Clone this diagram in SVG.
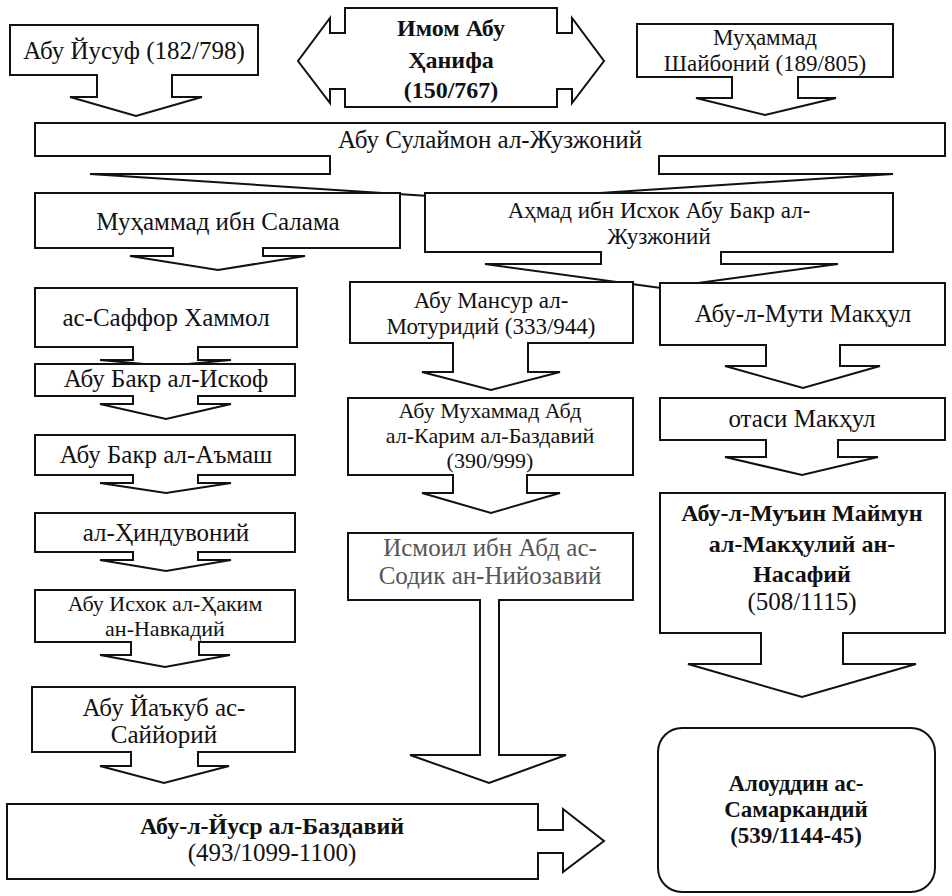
<svg xmlns="http://www.w3.org/2000/svg" width="952" height="896" viewBox="0 0 952 896">
<style>
.c{fill:#fff;stroke:#111;stroke-width:2;stroke-linejoin:miter;stroke-linecap:square}
.box{fill:#fff;stroke:#111;stroke-width:2;stroke-linecap:square}
.fl{fill:#fff;stroke:none}
text{font-family:"Liberation Serif","Times New Roman",serif;font-size:25px;text-anchor:middle;fill:#111}
.bd{font-weight:bold;font-size:24px}
.md{font-size:23px}
.sm{font-size:22px}
.gr{fill:#555}
</style>
<rect width="952" height="896" fill="#fff"/>
<g id="connectors">
<path class="c" d="M97,75 V97 H70 L136,116 L202,97 H172 V75"/>
<path class="c" d="M345,33 H330 V18 L298,61 L330,103 V89 H345"/>
<path class="c" d="M557,33 H572 V18 L604,61 L572,103 V89 H557"/>
<path class="c" d="M732,77 V98 H696 L765,115 L836,98 H798 V77"/>
<path class="c" d="M330,156 V174 H90 L491,200 L893,174 H659 V156"/>
<path class="c" d="M173,248 V256 H130 L218,270 L305,256 H263 V248"/>
<path class="c" d="M601,252 V264 H485 L661,288 L838,264 H721 V252"/>
<path class="c" d="M133,347 V360 H100 L166,366 L231,360 H198 V347"/>
<path class="c" d="M453,343 V372 H422 L491,390 L560,372 H528 V343"/>
<path class="c" d="M766,345 V366 H725 L803,388 L880,366 H840 V345"/>
<path class="c" d="M133,396 V404 H100 L166,419 L231,404 H198 V396"/>
<path class="c" d="M133,475 V483 H100 L166,493 L231,483 H198 V475"/>
<path class="c" d="M133,552 V560 H100 L166,571 L231,560 H198 V552"/>
<path class="c" d="M131,642 V655 H100 L165,667 L230,655 H199 V642"/>
<path class="c" d="M131,752 V766 H100 L164,783 L229,766 H198 V752"/>
<path class="c" d="M538,830 H563 V809 L604,841 L563,872 V853 H538"/>
<path class="c" d="M453,475 V493 H422 L491,513 L560,493 H527 V475"/>
<path class="c" d="M480,600 V755 H410 L489,783 L566,755 H499 V600"/>
<path class="c" d="M766,440 V457 H725 L802,475 L878,457 H838 V440"/>
<path class="c" d="M761,633 V664 H688 L802,697 L916,664 H843 V633"/>
</g>
<g id="n-yusuf">
<path class="box" d="M97,75 H10 V25 H258 V75 H172"/>
<text x="134" y="59">Абу Йусуф (182/798)</text>
</g>
<g id="n-imom">
<rect class="fl" x="345" y="8" width="212" height="99"/>
<path class="box" d="M345,33 V8 H557 V33 M557,89 V107 H345 V89" fill="none"/>
<text class="bd" x="451" y="36">Имом Абу</text>
<text class="bd" x="451" y="68">Ҳанифа</text>
<text class="bd" x="451" y="98">(150/767)</text>
</g>
<g id="n-shayboniy">
<path class="box" d="M732,77 H637 V24 H893 V77 H798"/>
<text class="md" x="765" y="45">Муҳаммад</text>
<text class="md" x="765" y="71">Шайбоний (189/805)</text>
</g>
<g id="n-sulaymon">
<path class="box" d="M330,156 H35 V123 H945 V156 H659"/>
<text x="490" y="148">Абу Сулаймон ал-Жузжоний</text>
</g>
<g id="n-salama">
<path class="box" d="M173,248 H35 V193 H400 V248 H263"/>
<text x="218" y="230">Муҳаммад ибн Салама</text>
</g>
<g id="n-ahmad">
<path class="box" d="M601,252 H425 V193 H893 V252 H721"/>
<text class="md" x="659" y="218">Аҳмад ибн Исхок Абу Бакр ал-</text>
<text class="md" x="659" y="244">Жузжоний</text>
</g>
<g id="n-saffor">
<path class="box" d="M133,347 H35 V288 H297 V347 H198"/>
<text x="166" y="326">ас-Саффор Хаммол</text>
</g>
<g id="n-mansur">
<path class="box" d="M453,343 H350 V282 H633 V343 H528"/>
<text class="md" x="491" y="308">Абу Мансур ал-</text>
<text class="md" x="491" y="334">Мотуридий (333/944)</text>
</g>
<g id="n-muti">
<path class="box" d="M766,345 H660 V283 H945 V345 H840"/>
<text x="803" y="322">Абу-л-Мути Макҳул</text>
</g>
<g id="n-iskof">
<path class="box" d="M133,396 H35 V364 H295 V396 H198"/>
<text x="166" y="387">Абу Бакр ал-Искоф</text>
</g>
<g id="n-amash">
<path class="box" d="M133,475 H35 V435 H295 V475 H198"/>
<text x="166" y="463">Абу Бакр ал-Аъмаш</text>
</g>
<g id="n-hinduvoniy">
<path class="box" d="M133,552 H35 V513 H295 V552 H198"/>
<text x="166" y="541">ал-Ҳиндувоний</text>
</g>
<g id="n-navkadiy">
<path class="box" d="M131,642 H35 V590 H295 V642 H199"/>
<text class="sm" x="165" y="611">Абу Исхок ал-Ҳаким</text>
<text class="sm" x="165" y="636">ан-Навкадий</text>
</g>
<g id="n-sayyoriy">
<path class="box" d="M131,752 H32 V687 H295 V752 H198"/>
<text x="164" y="716">Абу Йаъкуб ас-</text>
<text x="164" y="743">Саййорий</text>
</g>
<g id="n-yusr">
<path class="box" d="M538,830 V804 H7 V879 H538 V853"/>
<text class="bd" x="272" y="834">Абу-л-Йуср ал-Баздавий</text>
<text x="272" y="861">(493/1099-1100)</text>
</g>
<g id="n-abd">
<path class="box" d="M453,475 H348 V398 H633 V475 H527"/>
<text class="sm" x="490" y="418">Абу Мухаммад Абд</text>
<text class="sm" x="490" y="443">ал-Карим ал-Баздавий</text>
<text class="sm" x="490" y="468">(390/999)</text>
</g>
<g id="n-ismoil">
<path class="box" d="M480,600 H348 V533 H633 V600 H499"/>
<text class="gr" x="490" y="556">Исмоил ибн Абд ас-</text>
<text class="gr" x="490" y="584">Содик ан-Нийозавий</text>
</g>
<g id="n-otasi">
<path class="box" d="M766,440 H660 V398 H945 V440 H838"/>
<text x="802" y="427">отаси Макҳул</text>
</g>
<g id="n-muin">
<path class="box" d="M761,633 H660 V493 H945 V633 H843"/>
<text class="bd" x="802" y="521">Абу-л-Муъин Маймун</text>
<text class="bd" x="802" y="552">ал-Макҳулий ан-</text>
<text class="bd" x="802" y="582">Насафий</text>
<text x="802" y="610">(508/1115)</text>
</g>
<g id="n-alouddin">
<rect class="box" x="658" y="728" width="277" height="164" rx="24"/>
<text class="bd" x="796" y="791" style="font-size:23px">Алоуддин ас-</text>
<text class="bd" x="796" y="817" style="font-size:23px">Самаркандий</text>
<text class="bd" x="796" y="843" style="font-size:23px">(539/1144-45)</text>
</g>
</svg>
